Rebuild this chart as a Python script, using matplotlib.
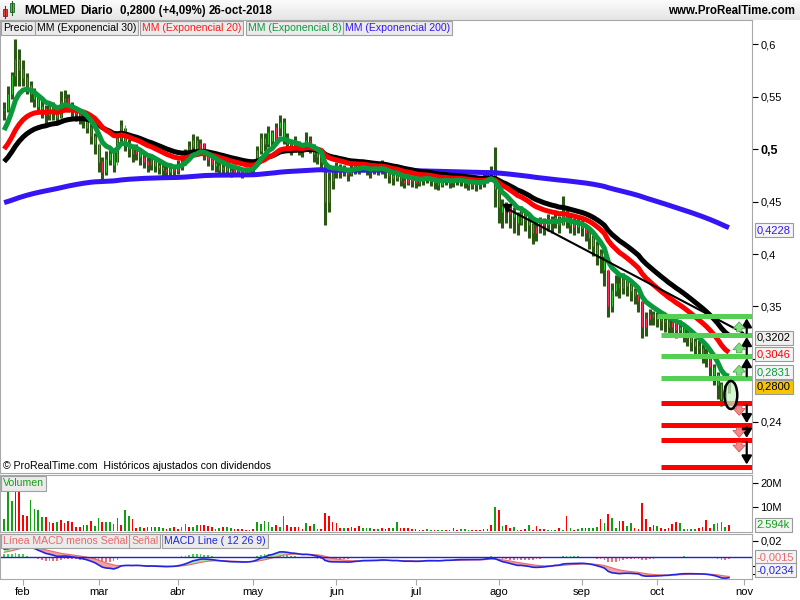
import numpy as np
import matplotlib
matplotlib.use("Agg")
import matplotlib.pyplot as plt
from matplotlib.patches import Ellipse, Rectangle

plt.rcParams['font.family'] = ['Liberation Sans', 'DejaVu Sans']

# ---------------- data: MOLMED daily, 25-ene-2018 .. 26-oct-2018 ----------------
close = [0.537, 0.552, 0.570, 0.585, 0.575,
         0.568, 0.560, 0.552, 0.548, 0.540, 0.538, 0.532, 0.540, 0.535, 0.530,
         0.545, 0.548, 0.540, 0.536, 0.533, 0.530, 0.528, 0.520, 0.512, 0.505,
         0.488, 0.478, 0.490, 0.495, 0.485, 0.510, 0.522, 0.505, 0.500, 0.495,
         0.498, 0.492, 0.488, 0.485, 0.490, 0.484, 0.482, 0.480, 0.478, 0.481, 0.479,
         0.484, 0.488, 0.495, 0.502, 0.508, 0.500, 0.505, 0.495, 0.490, 0.486,
         0.484, 0.480, 0.482, 0.479, 0.477, 0.480, 0.478, 0.476, 0.478, 0.480,
         0.485, 0.498, 0.510, 0.505, 0.515, 0.508, 0.520, 0.525, 0.510, 0.505,
         0.500, 0.505, 0.500, 0.498, 0.508, 0.502, 0.495, 0.492, 0.488, 0.450,
         0.470, 0.478,
         0.482, 0.478, 0.480, 0.476, 0.480, 0.485, 0.482, 0.486, 0.480, 0.478,
         0.482, 0.480, 0.483, 0.478, 0.474, 0.472, 0.476, 0.470, 0.468, 0.472, 0.470,
         0.468, 0.470, 0.472, 0.474, 0.470, 0.468, 0.466, 0.470, 0.472, 0.468,
         0.470, 0.472, 0.470, 0.468, 0.466, 0.468, 0.466, 0.468, 0.470, 0.475,
         0.478, 0.462,
         0.445, 0.440, 0.445, 0.438, 0.435, 0.430, 0.440, 0.432, 0.428, 0.420,
         0.425, 0.430, 0.428, 0.432, 0.430, 0.434, 0.428, 0.440, 0.432, 0.428,
         0.426, 0.428,
         0.425, 0.420, 0.415, 0.408, 0.400, 0.395, 0.385, 0.350, 0.365, 0.372,
         0.368, 0.375, 0.370, 0.365, 0.360, 0.355, 0.330, 0.338, 0.342, 0.340,
         0.338, 0.336, 0.335, 0.330, 0.334, 0.328, 0.330, 0.325, 0.320, 0.316,
         0.312, 0.310, 0.305, 0.300, 0.292, 0.285, 0.275, 0.262, 0.269, 0.280]
high = [0.545, 0.560, 0.573, 0.605, 0.595,
        0.585, 0.572, 0.565, 0.558, 0.552, 0.548, 0.542, 0.545, 0.545, 0.540,
        0.555, 0.556, 0.552, 0.545, 0.540, 0.538, 0.535, 0.532, 0.525, 0.515,
        0.505, 0.492, 0.498, 0.502, 0.500, 0.515, 0.528, 0.520, 0.510, 0.505,
        0.505, 0.500, 0.496, 0.492, 0.495, 0.492, 0.490, 0.488, 0.486, 0.487, 0.485,
        0.490, 0.494, 0.500, 0.508, 0.514, 0.512, 0.510, 0.506, 0.498, 0.494,
        0.490, 0.488, 0.487, 0.485, 0.484, 0.486, 0.484, 0.482, 0.483, 0.485,
        0.490, 0.503, 0.515, 0.515, 0.522, 0.518, 0.525, 0.532, 0.530, 0.515,
        0.510, 0.512, 0.508, 0.504, 0.516, 0.512, 0.505, 0.500, 0.495, 0.490,
        0.478, 0.484,
        0.488, 0.486, 0.485, 0.482, 0.486, 0.490, 0.488, 0.490, 0.488, 0.484,
        0.486, 0.485, 0.490, 0.485, 0.480, 0.478, 0.482, 0.478, 0.474, 0.476, 0.475,
        0.474, 0.476, 0.478, 0.480, 0.477, 0.474, 0.472, 0.475, 0.478, 0.475,
        0.476, 0.478, 0.475, 0.474, 0.472, 0.473, 0.472, 0.473, 0.476, 0.480,
        0.484, 0.502,
        0.462, 0.452, 0.450, 0.448, 0.445, 0.440, 0.446, 0.442, 0.436, 0.430,
        0.432, 0.435, 0.434, 0.438, 0.436, 0.440, 0.436, 0.455, 0.442, 0.436,
        0.434, 0.435,
        0.432, 0.428, 0.424, 0.418, 0.412, 0.405, 0.398, 0.385, 0.372, 0.380,
        0.382, 0.382, 0.378, 0.372, 0.368, 0.362, 0.355, 0.345, 0.348, 0.346,
        0.345, 0.343, 0.342, 0.338, 0.340, 0.336, 0.337, 0.333, 0.330, 0.325,
        0.320, 0.318, 0.314, 0.310, 0.302, 0.295, 0.288, 0.278, 0.275, 0.284]
low = [0.528, 0.535, 0.548, 0.560, 0.560,
       0.560, 0.552, 0.545, 0.540, 0.535, 0.530, 0.525, 0.528, 0.528, 0.524,
       0.530, 0.538, 0.535, 0.530, 0.527, 0.524, 0.520, 0.515, 0.505, 0.495,
       0.478, 0.470, 0.475, 0.485, 0.478, 0.488, 0.505, 0.498, 0.492, 0.488,
       0.490, 0.485, 0.482, 0.478, 0.480, 0.478, 0.476, 0.474, 0.472, 0.474, 0.473,
       0.476, 0.480, 0.485, 0.492, 0.498, 0.494, 0.496, 0.490, 0.484, 0.480,
       0.478, 0.475, 0.476, 0.474, 0.473, 0.475, 0.474, 0.472, 0.474, 0.475,
       0.477, 0.485, 0.495, 0.498, 0.502, 0.500, 0.505, 0.512, 0.505, 0.498,
       0.494, 0.497, 0.494, 0.492, 0.498, 0.496, 0.488, 0.486, 0.482, 0.428,
       0.440, 0.462,
       0.472, 0.472, 0.474, 0.470, 0.474, 0.476, 0.476, 0.478, 0.475, 0.472,
       0.476, 0.475, 0.476, 0.472, 0.468, 0.466, 0.470, 0.465, 0.463, 0.466, 0.464,
       0.463, 0.465, 0.466, 0.468, 0.465, 0.462, 0.461, 0.464, 0.466, 0.463,
       0.464, 0.466, 0.465, 0.463, 0.461, 0.462, 0.460, 0.462, 0.464, 0.468,
       0.470, 0.445,
       0.430, 0.425, 0.430, 0.425, 0.420, 0.418, 0.428, 0.422, 0.415, 0.410,
       0.412, 0.420, 0.418, 0.422, 0.420, 0.425, 0.420, 0.428, 0.425, 0.420,
       0.418, 0.420,
       0.417, 0.412, 0.405, 0.398, 0.390, 0.382, 0.370, 0.340, 0.345, 0.360,
       0.358, 0.362, 0.360, 0.355, 0.352, 0.345, 0.320, 0.322, 0.332, 0.332,
       0.330, 0.328, 0.326, 0.322, 0.325, 0.320, 0.322, 0.316, 0.312, 0.308,
       0.304, 0.302, 0.296, 0.292, 0.284, 0.275, 0.262, 0.255, 0.256, 0.268]
# volume in millions of shares, and day direction (u = up, d = down)
volume = [5.0, 16.8, 12.5, 16.8, 16.8, 6.7, 6.4, 13.0, 9.4, 9.0,
          6.0, 6.0, 3.9, 3.2, 3.9, 4.6, 3.5, 4.2, 3.9, 1.8,
          1.5, 2.5, 2.5, 4.2, 2.1, 5.3, 3.6, 3.6, 3.6, 2.9,
          5.3, 2.5, 9.0, 6.3, 4.9, 1.1, 1.5, 1.1, 1.5, 1.5,
          1.5, 1.5, 1.1, 0.8, 1.3, 1.8, 0.8, 1.5, 2.9, 1.8,
          1.5, 2.5, 2.5, 2.5, 2.1, 1.5, 0.8, 1.3, 1.8, 1.5,
          1.3, 0.8, 0.8, 0.8, 0.4, 0.4, 0.8, 3.6, 2.9, 4.3,
          3.6, 1.5, 2.5, 1.5, 6.4, 2.5, 1.8, 1.8, 1.8, 0.7,
          3.5, 2.1, 2.9, 0.8, 0.8, 7.4, 6.4, 3.9, 3.5, 1.1,
          1.1, 1.1, 1.8, 1.1, 2.1, 1.1, 1.1, 1.1, 0.7, 0.7,
          1.1, 0.7, 1.1, 1.1, 3.9, 1.1, 1.4, 1.1, 0.8, 0.7,
          0.4, 0.4, 0.7, 0.4, 0.4, 0.4, 0.4, 0.4, 0.4, 1.4,
          0.4, 0.7, 0.8, 0.4, 0.4, 0.4, 0.4, 0.8, 0.7, 2.5,
          10.1, 9.0, 2.1, 2.5, 1.1, 1.8, 0.4, 0.4, 0.7, 2.5,
          0.4, 2.1, 0.8, 0.8, 0.4, 0.4, 0.4, 1.1, 0.4, 6.3,
          1.4, 0.4, 0.7, 1.1, 1.4, 1.4, 1.4, 1.8, 5.0, 3.2,
          7.2, 5.6, 1.4, 4.2, 4.2, 2.1, 3.2, 1.4, 0.7, 11.8,
          5.0, 1.8, 2.5, 2.1, 1.1, 0.8, 1.4, 2.8, 3.9, 3.5,
          0.8, 0.8, 0.8, 0.8, 1.4, 1.8, 4.6, 1.1, 2.9, 3.2,
          3.9, 1.8, 2.5]
direction = ("uuudddduuuudududdddddduduuduuuuduudduddduuudu"
             "dduuduudddduuduudddddduuuuuduuddddduduuddddddud"
             "ddduuududdduuddddddduuduudddduuuddddddududduud"
             "dudddduuudududuuduuududuudduudddddduddddduu")

# indicator start values (state of the averages on the first bar)
ema_seed = {30: 0.488, 20: 0.500, 8: 0.518, 200: 0.449}
macd_seed = (0.540, 0.530, 0.006)   # ema12, ema26, signal

# last values printed in the right-hand boxes
price_boxes = [0.4228, 0.3202, 0.3046, 0.2831, 0.2800]
macd_boxes = [-0.0015, -0.0234]
volume_box = '2.594k'

# drawn objects
levels_up = [0.3407, 0.3229, 0.3029, 0.2816]
levels_dn = [0.2578, 0.2369, 0.2229, 0.1975]
trend = [(133.1, 0.4435), (195.7, 0.3250)]

holidays = ['2018-03-30', '2018-04-02', '2018-05-01', '2018-08-15']
months = ['2018-02-01', '2018-03-01', '2018-04-01', '2018-05-01', '2018-06-01',
          '2018-07-01', '2018-08-01', '2018-09-01', '2018-10-01', '2018-11-01']
month_names = ['feb', 'mar', 'abr', 'may', 'jun', 'jul', 'ago', 'sep', 'oct', 'nov']

# ---------------- derived series ----------------
days = np.arange(np.datetime64('2018-01-25'), np.datetime64('2018-11-03'))
days = days[np.is_busday(days, holidays=holidays)]
month_idx = np.searchsorted(days, np.array(months, dtype='datetime64[D]'))

c = np.array(close)
n = len(c)
idx = np.arange(n)
opn = np.r_[c[0], c[:-1]]
up = np.array([d == 'u' for d in direction[:n]])


def ema(values, period, seed):
    a = 2.0 / (period + 1)
    out = np.empty(len(values))
    out[0] = seed
    for k in range(1, len(values)):
        out[k] = out[k - 1] + a * (values[k] - out[k - 1])
    return out


emas = {p: ema(c, p, s) for p, s in ema_seed.items()}
e12 = ema(c, 12, macd_seed[0])
e26 = ema(c, 26, macd_seed[1])
macd = e12 - e26
signal = ema(macd, 9, macd_seed[2])
hist = macd - signal


def fmt(v, dec=None):
    s = ('%.*f' % (dec, v)) if dec else ('%g' % v)
    return s.replace('.', ',')


# ---------------- figure ----------------
W, H = 800, 600
fig = plt.figure(figsize=(8, 6), dpi=100)
fig.patch.set_facecolor('white')


def rect(x0, y0, x1, y1):
    return [x0 / W, 1 - y1 / H, (x1 - x0) / W, (y1 - y0) / H]


GRAY = '#a8a8a8'
DARK = '#2b5714'
BOX = dict(boxstyle='square,pad=0.18', fc='#f4f4f4', ec='#9a9a9a', lw=0.8)
LEG = dict(boxstyle='square,pad=0.2', fc='#ebebeb', ec='#a0a0a0', lw=0.8)

# header bar
hdr = fig.add_axes(rect(0, 0, W, 20))
g = np.linspace(0.985, 0.90, 20)[:, None] * np.ones((20, 4))
hdr.imshow(np.dstack([g, g, g]), extent=(0, W, 20, 0), aspect='auto')
hdr.set_xlim(0, W)
hdr.set_ylim(20, 0)
hdr.axis('off')
hdr.plot([4.5, 4.5], [6, 18], color='#802020', lw=0.8)
hdr.add_patch(Rectangle((2.5, 9), 4, 7, fc='#e04040', ec='#802020', lw=0.6))
hdr.plot([12, 12], [1, 15], color='#206020', lw=0.8)
hdr.add_patch(Rectangle((10, 3), 4, 9, fc='#40d040', ec='#206020', lw=0.6))
for x, s in [(24, 'MOLMED'), (80, 'Diario'), (120, '0,2800 (+4,09%)'), (209, '26-oct-2018')]:
    hdr.text(x, 11, s, fontsize=8.3, fontweight='bold', va='center')
hdr.text(795, 11, 'www.ProRealTime.com', fontsize=8.3, fontweight='bold',
         va='center', ha='right')

ax = fig.add_axes(rect(0, 20, 752, 473))
axv = fig.add_axes(rect(0, 475, 752, 532), sharex=ax)
axm = fig.add_axes(rect(0, 534, 752, 579), sharex=ax)

for a in (ax, axv, axm):
    for s in a.spines.values():
        s.set_color(GRAY)
    a.yaxis.tick_right()
    a.tick_params(axis='y', direction='out', length=4, width=0.8, colors='black',
                  labelsize=8, pad=2)
    a.tick_params(axis='x', bottom=False, labelbottom=False)

ax.set_xlim(-1.1, 198.1)

# ---- price panel ----
ax.set_ylim(0.1914, 0.6229)
ax.vlines(idx, low, high, color=DARK, lw=2.2, zorder=2)
ax.vlines(idx, np.minimum(opn, c), np.maximum(opn, c) + 0.0008,
          color=np.where(up, '#22cc22', '#ff2a55'), lw=0.75, zorder=2.1)

ax.plot(idx, emas[200], color='#3514f5', lw=3.6, zorder=3, solid_capstyle='butt')
ax.plot(idx, emas[30], color='black', lw=3.6, zorder=3.1, solid_capstyle='butt')
ax.plot(idx, emas[20], color='#ff0000', lw=3.6, zorder=3.2, solid_capstyle='butt')
ax.plot(idx, emas[8], color='#0a9a3c', lw=3.6, zorder=3.3, solid_capstyle='butt')

# trend line
(tx0, ty0), (tx1, ty1) = trend
ax.plot([tx0, tx1], [ty0, ty1], color='black', lw=1.5, zorder=4)
ax.plot([tx0], [ty0], marker='v', color='black', ms=6, zorder=4)

# support / resistance levels with arrows
for k, lv in enumerate(levels_up):
    ax.plot([172.9 if k == 0 else 173.9, 198.1], [lv, lv], color='#55d055',
            lw=3.6, zorder=4, solid_capstyle='butt')
for lv in levels_dn:
    ax.plot([174.0, 198.1], [lv, lv], color='#ff0000', lw=3.6, zorder=4,
            solid_capstyle='butt')
blk = dict(arrowstyle='-|>,head_length=0.5,head_width=0.3', color='black', lw=1.6,
           shrinkA=1.5, shrinkB=1.5)
for lo, hi in zip(levels_up[1:], levels_up[:-1]):
    ax.annotate('', xy=(196.7, hi), xytext=(196.7, lo), arrowprops=blk, zorder=5)
for hi, lo in zip(levels_dn[:-1], levels_dn[1:]):
    ax.annotate('', xy=(196.7, lo), xytext=(196.7, hi), arrowprops=blk, zorder=5)
fat = 'simple,head_length=0.5,head_width=0.9,tail_width=0.4'
for lv in levels_up[1:]:
    ax.annotate('', xy=(194.7, lv + 0.0125), xytext=(194.7, lv + 0.003),
                arrowprops=dict(arrowstyle=fat, fc='#80de80', ec='#40a040', lw=0.5,
                                mutation_scale=10, shrinkA=0, shrinkB=0), zorder=5)
for lv in levels_dn[:-1]:
    ax.annotate('', xy=(194.7, lv - 0.0115), xytext=(194.7, lv - 0.0025),
                arrowprops=dict(arrowstyle=fat, fc='#f08a8a', ec='#d04848', lw=0.5,
                                mutation_scale=10, shrinkA=0, shrinkB=0), zorder=5)
ax.add_patch(Ellipse((192.5, 0.2657), 3.4, 0.0267, fc=(0.78, 0.95, 0.78, 0.7),
                     ec='black', lw=1.8, zorder=5))

pticks = [0.6, 0.55, 0.5, 0.45, 0.4, 0.35, 0.3, 0.24]
ax.set_yticks(pticks)
ax.set_yticklabels(['' if v == 0.3 else fmt(v) for v in pticks])
for t, v in zip(ax.get_yticklabels(), pticks):
    if v == 0.5:
        t.set_fontweight('bold')
        t.set_fontsize(9)

# value boxes on the right axis
box_style = [(0, '#3514f5', '#f4f4f4'), (0, 'black', '#f0f0f0'),
             (0, '#ff0000', '#f4f4f4'), (3.3, '#0a9a3c', '#f4f4f4'),
             (-5.0, 'black', '#f8c400')]
for v, (dy, col, fc) in zip(price_boxes, box_style):
    ax.annotate(fmt(v, 4), xy=(1.0, v), xycoords=ax.get_yaxis_transform(),
                xytext=(3.5, dy), textcoords='offset points', fontsize=8, color=col,
                va='center', ha='left', annotation_clip=False, zorder=6,
                bbox=dict(BOX, fc=fc))

# legend boxes
lx = [(3, 'Precio', 'black'), (37, 'MM (Exponencial 30)', 'black'),
      (142, 'MM (Exponencial 20)', '#ff1a1a'), (248, 'MM (Exponencial 8)', '#0a9a3c'),
      (345, 'MM (Exponencial 200)', '#3514f5')]
for x, s, col in lx:
    fig.text(x / W, 1 - 28 / H, s, fontsize=7.6, color=col, va='center', bbox=LEG)
fig.text(3 / W, 1 - 466 / H, '\u00a9 ProRealTime.com  Hist\u00f3ricos ajustados con dividendos',
         fontsize=7.6, va='center')

# ---- volume panel ----
axv.set_ylim(-0.42, 23.5)
axv.bar(idx, volume[:n], width=0.45, color=np.where(up, '#12a012', '#ff0000'))
axv.set_yticks([20, 10])
axv.set_yticklabels(['20M', '10M'])
axv.annotate(volume_box, xy=(1.0, volume[n - 1]), xycoords=axv.get_yaxis_transform(),
             xytext=(3.5, 0), textcoords='offset points', fontsize=8, color='#12a012',
             va='center', annotation_clip=False, bbox=BOX)
fig.text(3 / W, 1 - 483.5 / H, 'Volumen', fontsize=7.6, color='#12a012', va='center',
         bbox=LEG)

# ---- MACD panel ----
axm.set_ylim(-0.0262, 0.0281)
axm.bar(idx, hist, width=0.45, color=np.where(hist >= 0, '#48d048', '#f07070'))
axm.fill_between(idx, macd, signal, where=signal >= macd, interpolate=True,
                 color='#f3a0a0', lw=0)
axm.fill_between(idx, macd, signal, where=macd > signal, interpolate=True,
                 color='#a5e6a5', lw=0)
axm.plot(idx, signal, color='#e86a6a', lw=0.8)
axm.plot(idx, macd, color='#2424e0', lw=1.2)
axm.axhline(0, color='#2020d8', lw=1.0)
axm.set_yticks([0.02, -0.01, -0.02])
axm.set_yticklabels(['0,02', '', ''])
for v, dy, col in zip(macd_boxes, [1.0, 4.5], ['#e86a6a', '#2424e0']):
    axm.annotate(fmt(v, 4), xy=(1.0, v), xycoords=axm.get_yaxis_transform(),
                 xytext=(3.5, dy), textcoords='offset points', fontsize=8, color=col,
                 va='center', annotation_clip=False, bbox=BOX)
for x, s, col in [(3, 'L\u00ednea MACD menos Se\u00f1al', '#e86a6a'),
                  (131, 'Se\u00f1al', '#e86a6a'),
                  (164, 'MACD Line ( 12 26 9)', '#2424e0')]:
    fig.text(x / W, 1 - 541 / H, s, fontsize=7.6, color=col, va='center', bbox=LEG)

axm.tick_params(axis='x', bottom=True, labelbottom=True, direction='out', length=4,
                colors=GRAY, labelcolor='black', labelsize=8, pad=2)
axm.set_xticks(month_idx)
axm.set_xticklabels(month_names)

fig.savefig('out.png', dpi=100)
